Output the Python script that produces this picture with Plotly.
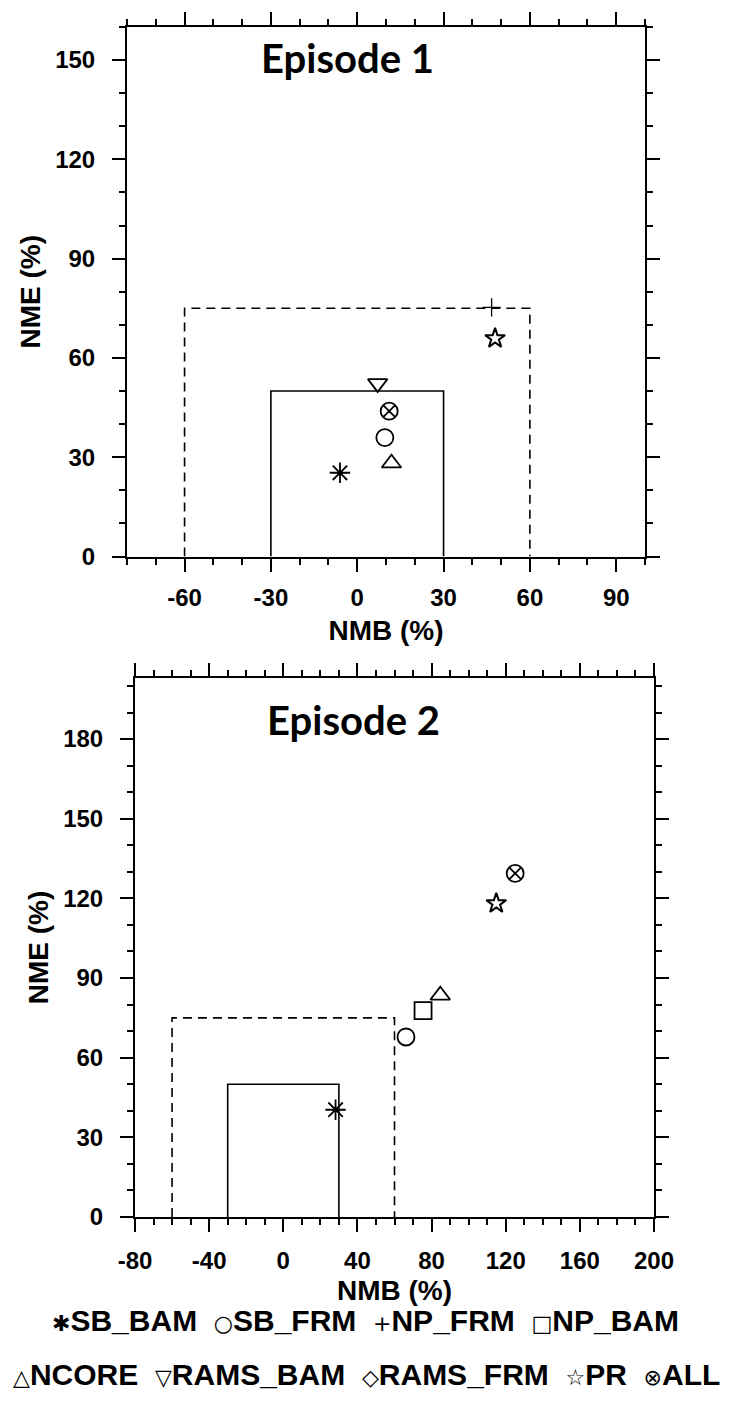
import plotly.graph_objects as go

# ---------------- data ----------------
names = ["SB_BAM", "SB_FRM", "NP_FRM", "NP_BAM", "NCORE", "RAMS_BAM", "RAMS_FRM", "PR", "ALL"]
symbols = ["asterisk-open", "circle-open", "cross-thin-open", "square-open", "triangle-up-open",
           "triangle-down-open", "diamond-open", "star-open", "circle-x-open"]
legend_glyphs = ["\u2731", "\u25CB", "+", "\u25A1", "\u25B3", "\u25BD", "\u25C7", "\u2606", "\u2297"]

ep1_nmb = [-6.0, 9.6, 46.7, None, 11.9, 7.1, None, 47.9, 11.1]
ep1_nme = [25.3, 35.9, 75.3, None, 28.2, 52.3, None, 65.9, 43.9]
ep2_nmb = [28.2, 66.2, None, 75.4, 84.7, None, None, 114.9, 125.1]
ep2_nme = [40.4, 67.8, None, 77.7, 83.5, None, None, 118.1, 129.4]

# tick labels
ep1_xticks = [-60, -30, 0, 30, 60, 90]
ep1_yticks = [0, 30, 60, 90, 120, 150]
ep2_xticks = [-80, -40, 0, 40, 80, 120, 160, 200]
ep2_yticks = [0, 30, 60, 90, 120, 150, 180]

# performance goal (solid) and criteria (dashed) boxes
goal_nmb, goal_nme = 30, 50
crit_nmb, crit_nme = 60, 75

W, H = 735, 1401
TICKFONT = dict(family="Liberation Sans, Arial, sans-serif", size=24, color="black", weight="bold")
TITLEFONT = dict(family="Liberation Sans, Arial, sans-serif", size=28, color="black", weight="bold")

marker_size = {"cross-thin-open": 13, "star-open": 15}
marker_lw = {"cross-thin-open": 1.3, "star-open": 2.0}

fig = go.Figure()

panels = [
    dict(x=ep1_nmb, y=ep1_nme, xa="x", ya="y"),
    dict(x=ep2_nmb, y=ep2_nme, xa="x2", ya="y2"),
]

for p in panels:
    fig.add_trace(go.Scatter(x=[-crit_nmb, -crit_nmb, crit_nmb, crit_nmb], y=[0, crit_nme, crit_nme, 0],
                             mode="lines", line=dict(color="black", width=1.6, dash="9px,6px"),
                             xaxis=p["xa"], yaxis=p["ya"], showlegend=False, hoverinfo="skip"))
    fig.add_trace(go.Scatter(x=[-goal_nmb, -goal_nmb, goal_nmb, goal_nmb], y=[0, goal_nme, goal_nme, 0],
                             mode="lines", line=dict(color="black", width=1.6),
                             xaxis=p["xa"], yaxis=p["ya"], showlegend=False, hoverinfo="skip"))
    for i, n in enumerate(names):
        if p["x"][i] is None:
            continue
        s = symbols[i]
        fig.add_trace(go.Scatter(x=[p["x"][i]], y=[p["y"][i]], mode="markers", name=n,
                                 marker=dict(symbol=s, size=marker_size.get(s, 17), color="black",
                                             line=dict(color="black", width=marker_lw.get(s, 1.8))),
                                 xaxis=p["xa"], yaxis=p["ya"], showlegend=False))

def axis(domain, rng, ticks, title, standoff, tsoff):
    return dict(domain=domain, range=rng, tickmode="array", tickvals=ticks,
                ticktext=[str(t) for t in ticks], automargin=False,
                showgrid=False, zeroline=False,
                showline=True, linecolor="black", linewidth=2, mirror="ticks",
                ticks="outside", ticklen=13, tickwidth=1.8, tickcolor="black",
                minor=dict(tickmode="linear", tick0=0, dtick=10, ticklen=6, tickwidth=1.5,
                           tickcolor="black", ticks="outside"),
                tickfont=TICKFONT, ticklabelstandoff=tsoff,
                title=dict(text=title, font=TITLEFONT, standoff=standoff))

def py(pix):
    return 1 - pix / H

fig.update_layout(
    width=W, height=H, margin=dict(l=0, r=0, t=0, b=0, autoexpand=False),
    paper_bgcolor="white", plot_bgcolor="white", showlegend=False,
    xaxis=axis([127 / W, 645 / W], [-80, 100], ep1_xticks, "NMB (%)", 10, 6) | dict(anchor="y"),
    yaxis=axis([py(556.5), py(27)], [0, 160], ep1_yticks, "NME (%)", 6, 12) | dict(anchor="x"),
    xaxis2=axis([135 / W, 654 / W], [-80, 200], ep2_xticks, "NMB (%)", 8, 8) | dict(anchor="y2"),
    yaxis2=axis([py(1217), py(678)], [0, 203], ep2_yticks, "NME (%)", 6, 12) | dict(anchor="x2"),
)

EPFONT = dict(family="Lato, Open Sans, sans-serif", size=40, color="black", weight="bold")
fig.add_annotation(text="Episode 1", x=347 / W, y=py(58), xref="paper", yref="paper",
                   xanchor="center", yanchor="middle", showarrow=False, font=EPFONT)
fig.add_annotation(text="Episode 2", x=353 / W, y=py(720), xref="paper", yref="paper",
                   xanchor="center", yanchor="middle", showarrow=False, font=EPFONT)

LEGFONT = dict(family="Liberation Sans, Arial, sans-serif", size=30, color="black", weight="bold")

def entry(i):
    return ('<span style="font-family:DejaVu Sans;font-size:22px;font-weight:normal">'
            + legend_glyphs[i] + '</span>' + names[i])

row1 = "&nbsp;&nbsp;".join(entry(i) for i in range(0, 4))
row2 = "&nbsp;&nbsp;".join(entry(i) for i in range(4, 9))
fig.add_annotation(text=row1, x=365 / W, y=py(1320), xref="paper", yref="paper",
                   xanchor="center", yanchor="middle", showarrow=False, font=LEGFONT)
fig.add_annotation(text=row2, x=366 / W, y=py(1374), xref="paper", yref="paper",
                   xanchor="center", yanchor="middle", showarrow=False, font=LEGFONT)

fig.write_html("out.html")
